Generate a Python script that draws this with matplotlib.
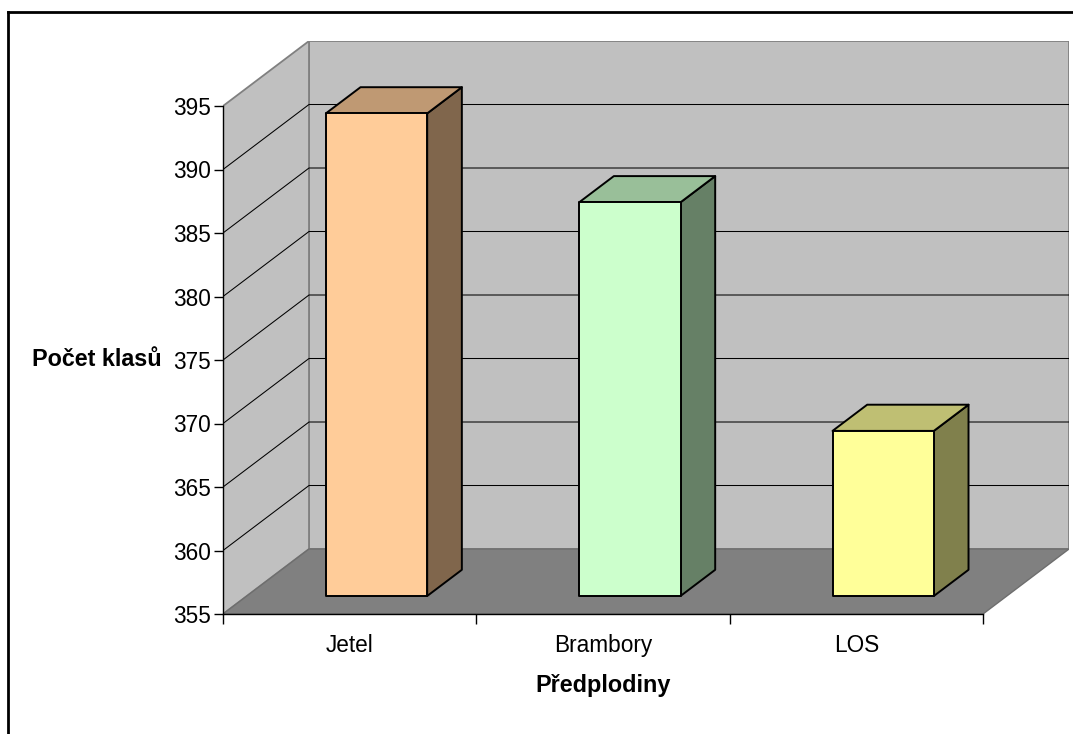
import matplotlib
matplotlib.use("Agg")
import matplotlib.pyplot as plt
from matplotlib.patches import Polygon
from matplotlib.lines import Line2D

plt.rcParams['font.family'] = ['Liberation Sans', 'DejaVu Sans']

categories = ["Jetel", "Brambory", "LOS"]
values = [393, 386, 368]
front_colors = ["#FFCC99", "#CCFFCC", "#FFFF99"]
top_colors = ["#BF9973", "#99BF99", "#BFBF73"]
side_colors = ["#80664C", "#668066", "#80804C"]
yticks = list(range(355, 400, 5))

ymin, ymax = 355, 395
# depth of the floor, as an offset in data units (x, y)
DX, DY = 0.3395, 5.118
# bar sits between these fractions of the floor depth
D1, D2 = 0.277, 0.68
BAR_LEFT, BAR_W = 0.312, 0.4

W, H = 1073, 734
fig = plt.figure(figsize=(W / 100, H / 100), dpi=100)
left_px, right_px, bottom_px = 223, 1069, 614
top_px = bottom_px - (ymax - ymin + DY) * 12.7
ax = fig.add_axes([left_px / W, (H - bottom_px) / H,
                   (right_px - left_px) / W, (bottom_px - top_px) / H])
ax.set_xlim(0, 3 + DX)
ax.set_ylim(ymin, ymax + DY)

wall_edge = "#808080"
# back wall, side wall, floor
ax.add_patch(Polygon([(DX, ymin + DY), (3 + DX, ymin + DY), (3 + DX, ymax + DY), (DX, ymax + DY)],
                     closed=True, fc="#C0C0C0", ec=wall_edge, lw=1.3, zorder=1))
ax.add_patch(Polygon([(0, ymin), (DX, ymin + DY), (DX, ymax + DY), (0, ymax)],
                     closed=True, fc="#C0C0C0", ec=wall_edge, lw=1.3, zorder=1))
ax.add_patch(Polygon([(0, ymin), (3, ymin), (3 + DX, ymin + DY), (DX, ymin + DY)],
                     closed=True, fc="#808080", ec="#6E6E6E", lw=1.0, zorder=2))

# gridlines along both walls
for v in yticks[1:-1]:
    ax.plot([0, DX, 3 + DX], [v, v + DY, v + DY], color="black", lw=0.75, zorder=1.5)

# 3-D style bars
ddx, ddy = (D2 - D1) * DX, (D2 - D1) * DY
for i, v in enumerate(values):
    x0 = i + BAR_LEFT + D1 * DX
    x1 = x0 + BAR_W
    y0 = ymin + D1 * DY
    y1 = v + D1 * DY
    kw = dict(closed=True, ec="black", lw=1.4, joinstyle="round", zorder=3)
    ax.add_patch(Polygon([(x1, y0), (x1 + ddx, y0 + ddy), (x1 + ddx, y1 + ddy), (x1, y1)],
                         fc=side_colors[i], **kw))
    ax.add_patch(Polygon([(x0, y1), (x1, y1), (x1 + ddx, y1 + ddy), (x0 + ddx, y1 + ddy)],
                         fc=top_colors[i], **kw))
    ax.add_patch(Polygon([(x0, y0), (x1, y0), (x1, y1), (x0, y1)],
                         fc=front_colors[i], **kw))

# axes: spines, ticks and labels
for s in ["top", "right"]:
    ax.spines[s].set_visible(False)
ax.spines["left"].set_bounds(ymin, ymax)
ax.spines["bottom"].set_bounds(0, 3)
for s in ["left", "bottom"]:
    ax.spines[s].set_color("black")
    ax.spines[s].set_linewidth(1.0)
    ax.spines[s].set_zorder(4)
ax.set_facecolor("none")

ax.set_yticks(yticks)
ax.set_yticklabels([str(t) for t in yticks])
ax.tick_params(axis="y", direction="out", length=6.5, width=1.0, pad=2, labelsize=16.3)

ax.set_xticks([0, 1, 2, 3])
ax.set_xticklabels([])
ax.set_xticks([i + 0.5 for i in range(len(categories))], minor=True)
ax.set_xticklabels(categories, minor=True)
ax.tick_params(axis="x", which="major", direction="out", length=7, width=1.0)
ax.tick_params(axis="x", which="minor", length=0, pad=14.5, labelsize=16.3)

ax.set_xlabel("Předplodiny", fontsize=16.8, fontweight="bold")
ax.xaxis.set_label_coords(1.5 / (3 + DX), -0.104)
ax.set_ylabel("Počet klasů", fontsize=16.8, fontweight="bold", rotation=0,
              ha="right", va="center")
ax.yaxis.set_label_coords((162 - left_px) / (right_px - left_px),
                          (bottom_px - 360) / (bottom_px - top_px))

# chart frame (left and top edges)
fig.add_artist(Line2D([8 / W, 8 / W], [0, 1 - 12 / H], color="black", lw=2,
                      transform=fig.transFigure))
fig.add_artist(Line2D([8 / W, 1], [1 - 12 / H, 1 - 12 / H], color="black", lw=2,
                      transform=fig.transFigure))

fig.savefig("out.png", dpi=100, facecolor="white")
